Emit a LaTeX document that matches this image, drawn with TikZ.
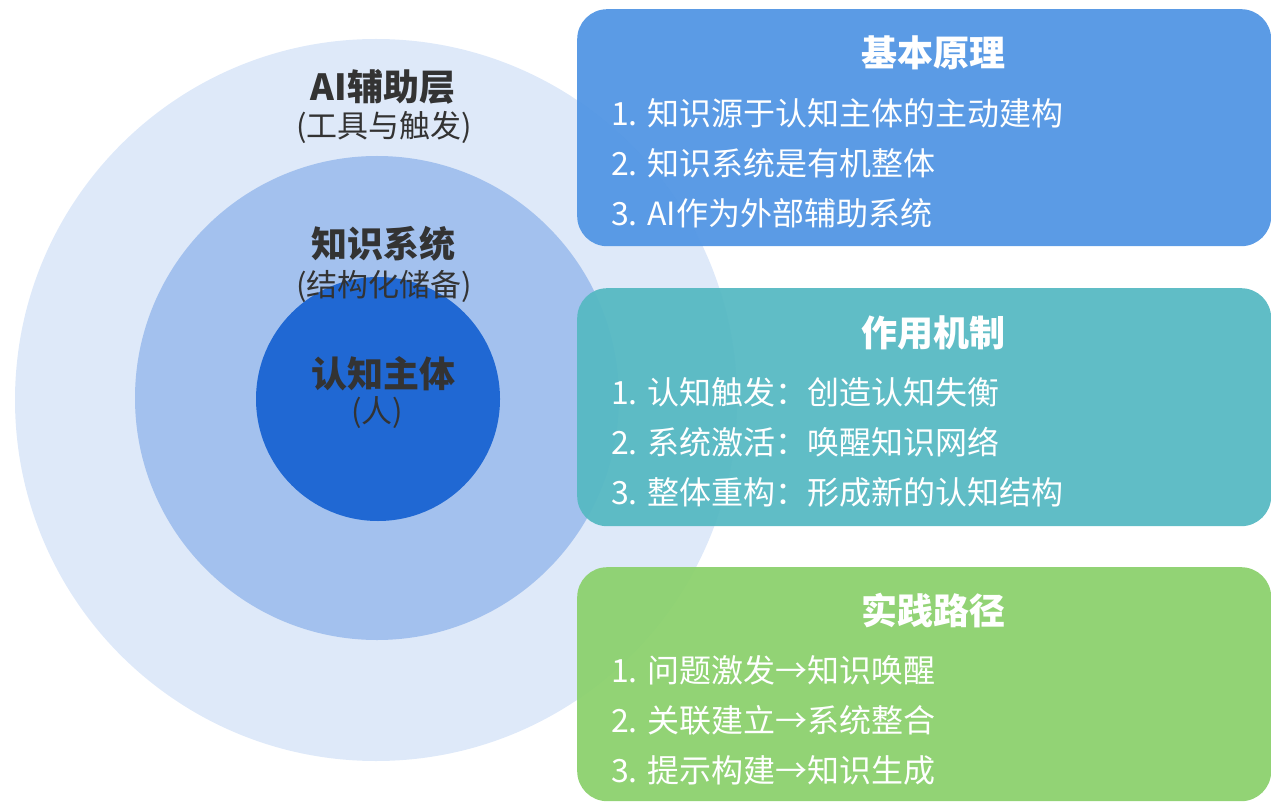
\documentclass[tikz,border=0pt]{standalone}
\usepackage{fontspec}
\setmainfont{Noto Sans CJK SC}
\definecolor{outerc}{HTML}{DEE9F9}
\definecolor{midc}{HTML}{A3C1EE}
\definecolor{innerc}{HTML}{2068D3}
\definecolor{boxa}{HTML}{5296E4}
\definecolor{boxb}{HTML}{57B9C3}
\definecolor{boxc}{HTML}{8CD16E}
\definecolor{lbl}{HTML}{333333}
\tikzset{
  panel/.style={rounded corners=30pt, minimum width=694pt, inner sep=0pt, anchor=north west, fill opacity=0.95},
  ptitle/.style={text=white, font=\fontsize{36}{40}\selectfont\bfseries, inner sep=0pt},
  pitem/.style={text=white, font=\fontsize{32}{36}\selectfont, inner sep=0pt, anchor=west},
  clabel/.style={text=lbl, font=\fontsize{36}{40}\selectfont\bfseries, inner sep=0pt},
  csub/.style={text=lbl, font=\fontsize{31}{34}\selectfont, inner sep=0pt},
}
\begin{document}
\begin{tikzpicture}[x=1pt,y=-1pt]
\useasboundingbox (0,0) rectangle (1271,802);
% circles
\fill[outerc] (376,400) circle (361);
\fill[midc] (377,398) circle (242);
\fill[innerc] (378,399) circle (122);
\node[clabel] (l1) at (383,87) {AI辅助层};
\node[csub] (s1) at (384,127) {(工具与触发)};
\node[clabel] (l2) at (383,244) {知识系统};
\node[csub] (s2) at (384,286) {(结构化储备)};
\node[clabel] (l3) at (383,374) {认知主体};
\node[csub] (s3) at (377,413) {(人)};
% panels
\node[panel, fill=boxa, minimum height=237pt] (b1) at (577,9) {};
\node[panel, fill=boxb, minimum height=238pt] (b2) at (577,288) {};
\node[panel, fill=boxc, minimum height=234pt] (b3) at (577,567) {};
\node[ptitle] (t1) at (933,53) {基本原理};
\node[pitem] (a1) at (611,113) {1. 知识源于认知主体的主动建构};
\node[pitem] (a2) at (611,163) {2. 知识系统是有机整体};
\node[pitem] (a3) at (611,213) {3. AI作为外部辅助系统};
\node[ptitle] (t2) at (933,333) {作用机制};
\node[pitem] (b1i) at (611,392) {1. 认知触发：创造认知失衡};
\node[pitem] (b2i) at (611,442) {2. 系统激活：唤醒知识网络};
\node[pitem] (b3i) at (611,492) {3. 整体重构：形成新的认知结构};
\node[ptitle] (t3) at (933,611) {实践路径};
\node[pitem] (c1) at (611,670) {1. 问题激发→知识唤醒};
\node[pitem] (c2) at (611,720) {2. 关联建立→系统整合};
\node[pitem] (c3) at (611,770) {3. 提示构建→知识生成};
\end{tikzpicture}
\end{document}
